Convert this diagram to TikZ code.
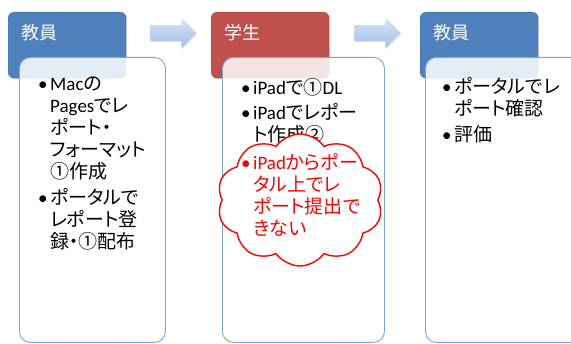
\documentclass[tikz,border=0pt]{standalone}
\usepackage{fontspec}
\setmainfont[RawFeature=+palt]{Noto Sans CJK JP}
\newfontfamily\latfont{Carlito}
\usetikzlibrary{shapes,shapes.symbols,shapes.arrows,shadows}
\usetikzlibrary{calc,positioning}
\definecolor{hdblue}{HTML}{4F81BD}
\definecolor{hdred}{HTML}{C0504D}
\definecolor{bdline}{HTML}{7EA3DA}
\definecolor{arrtop}{HTML}{D6E4F7}
\definecolor{arrbot}{HTML}{A3BFE8}
\tikzstyle{header}=[rectangle,rounded corners=6pt,minimum width=118pt,minimum height=66pt,anchor=north west,inner sep=0pt]
\tikzstyle{title}=[text=white,font=\fontsize{18}{20}\selectfont,anchor=west,inner sep=0pt]
\tikzstyle{body}=[rectangle,rounded corners=11pt,draw=bdline,fill=white,fill opacity=0.85,line width=0.9pt,anchor=north west,inner sep=0pt]
\tikzstyle{items}=[anchor=north west,inner sep=0pt,font=\fontsize{19}{22}\selectfont,align=left]
\tikzstyle{flow}=[single arrow,single arrow head extend=7pt,inner xsep=0pt,inner ysep=8pt,minimum height=46pt,top color=arrtop,bottom color=arrbot,drop shadow={opacity=0.2,shadow xshift=1pt,shadow yshift=-1pt}]
\tikzstyle{bubble}=[cloud,cloud puffs=10,cloud puff arc=110,aspect=1.3,draw=red,line width=1.4pt,fill=white,minimum width=166pt,minimum height=132pt,inner sep=0pt]
\newcommand{\bi}{\makebox[12pt][l]{\latfont\textbullet}}
\newcommand{\ind}{\hspace*{12pt}}
\newcommand{\la}[1]{{\latfont #1}}

\begin{document}
\begin{tikzpicture}[x=1pt,y=-1pt]
    \useasboundingbox (0,0) rectangle (571,344);

    % headers
    \foreach \pos/ \name / \col / \label in {{(8,12)/hd1/hdblue/教員},{(211,12)/hd2/hdred/学生},{(420,12)/hd3/hdblue/教員}} {
        \node[header,draw=\col!85!black,fill=\col] (\name) at \pos {};
        \node[title] (\name t) at ([xshift=13pt,yshift=-21pt]\name.north west) {\label};
    }

    % arrows between the steps
    \node[flow] (ar1) at (169.5,33) {};
    \node[flow] (ar2) at (373.5,33) {};

    % bodies
    \node[body,minimum width=146pt,minimum height=285pt] (bd1) at (19,57) {};
    \node[body,minimum width=162pt,minimum height=285pt] (bd2) at (222,57) {};
    \node[body,minimum width=190pt,minimum height=285pt] (bd3) at (425,57) {};

    \node[items] (tx1) at (38,77) {%
        \bi\la{Mac}の\\
        \ind\la{Pages}でレ\\
        \ind ポート・\\
        \ind フォーマット\\
        \ind ①作成\\[4pt]
        \bi ポータルで\\
        \ind レポート登\\
        \ind 録・①配布};

    \node[items] (tx2) at (241,78) {%
        \bi\la{iPad}で①\la{DL}\\[3pt]
        \bi\la{iPad}でレポー\\
        \ind ト作成②};

    \node[items] (tx3) at (442,77) {%
        \bi ポータルでレ\\
        \ind ポート確認\\[4pt]
        \bi 評価};

    % the problem
    \node[bubble] (cl) at (300,200) {};
    \node[items,text=red] (tx4) at (241,153) {%
        \bi\la{iPad}からポー\\
        \ind タル上でレ\\
        \ind ポート提出で\\
        \ind きない};
\end{tikzpicture}
\end{document}
